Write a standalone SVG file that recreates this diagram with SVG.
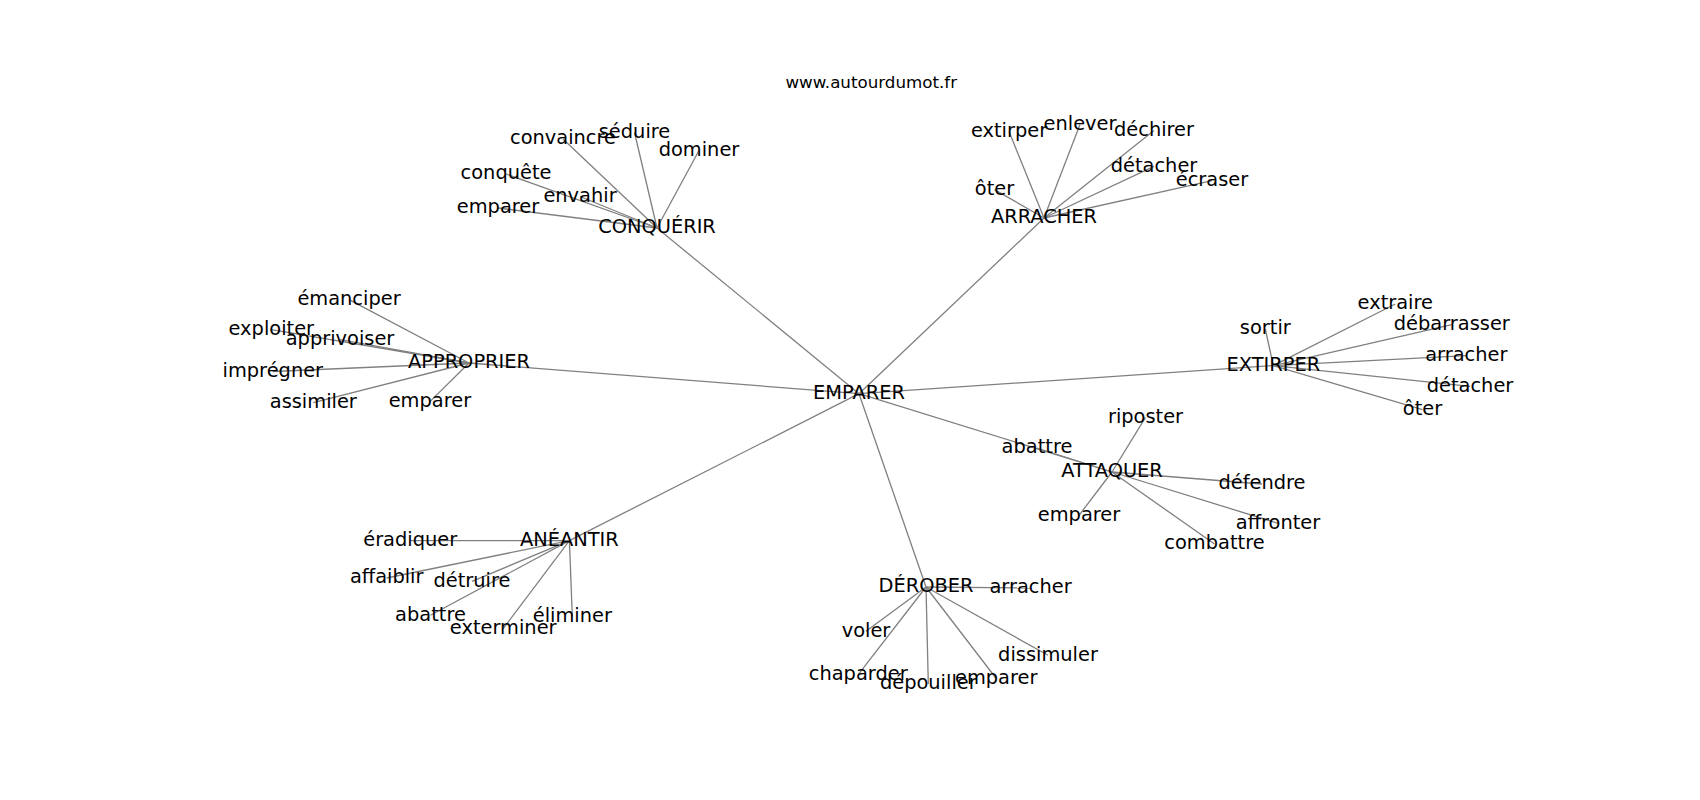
<svg xmlns="http://www.w3.org/2000/svg" width="1700" height="800" viewBox="0 0 1700 800">
<style>
.e line{stroke:#808080;stroke-width:1.3;fill:none}
text{font-family:"DejaVu Sans",sans-serif;font-size:19.4px;fill:#000;text-anchor:middle}
.t{font-size:16.7px}
</style>
<rect width="1700" height="800" fill="#fff"/>
<text class="t" x="871.25" y="88">www.autourdumot.fr</text>
<g class="e" id="connectors">
<line x1="859" y1="393.7" x2="657" y2="228"/>
<line x1="859" y1="393.7" x2="1044" y2="218"/>
<line x1="859" y1="393.7" x2="469" y2="363"/>
<line x1="859" y1="393.7" x2="1273.3" y2="365.6"/>
<line x1="859" y1="393.7" x2="1112" y2="472"/>
<line x1="859" y1="393.7" x2="569.4" y2="540.6"/>
<line x1="859" y1="393.7" x2="926" y2="587"/>
<line x1="657" y1="228" x2="563" y2="139"/>
<line x1="657" y1="228" x2="634.5" y2="132.5"/>
<line x1="657" y1="228" x2="699" y2="150.5"/>
<line x1="657" y1="228" x2="506" y2="174"/>
<line x1="657" y1="228" x2="580" y2="196.5"/>
<line x1="657" y1="228" x2="498" y2="208"/>
<line x1="1044" y1="218" x2="1009" y2="131.5"/>
<line x1="1044" y1="218" x2="1080" y2="124.6"/>
<line x1="1044" y1="218" x2="1154" y2="130.6"/>
<line x1="1044" y1="218" x2="1154" y2="166.3"/>
<line x1="1044" y1="218" x2="1212" y2="180.6"/>
<line x1="1044" y1="218" x2="994.5" y2="189.6"/>
<line x1="469" y1="363" x2="349" y2="299.6"/>
<line x1="469" y1="363" x2="271.3" y2="329.6"/>
<line x1="469" y1="363" x2="340" y2="339.6"/>
<line x1="469" y1="363" x2="272.8" y2="371.5"/>
<line x1="469" y1="363" x2="313.3" y2="402.7"/>
<line x1="469" y1="363" x2="429.9" y2="401.6"/>
<line x1="1273.3" y1="365.6" x2="1265.3" y2="329"/>
<line x1="1273.3" y1="365.6" x2="1395.3" y2="304"/>
<line x1="1273.3" y1="365.6" x2="1451.8" y2="324.6"/>
<line x1="1273.3" y1="365.6" x2="1466.3" y2="355.6"/>
<line x1="1273.3" y1="365.6" x2="1470" y2="386.3"/>
<line x1="1273.3" y1="365.6" x2="1422.5" y2="409.6"/>
<line x1="1112" y1="472" x2="1145.5" y2="417.3"/>
<line x1="1112" y1="472" x2="1037" y2="448"/>
<line x1="1112" y1="472" x2="1262" y2="484"/>
<line x1="1112" y1="472" x2="1079" y2="515.3"/>
<line x1="1112" y1="472" x2="1278" y2="523.3"/>
<line x1="1112" y1="472" x2="1214.5" y2="544"/>
<line x1="569.4" y1="540.6" x2="410.2" y2="540.6"/>
<line x1="569.4" y1="540.6" x2="386.7" y2="578"/>
<line x1="569.4" y1="540.6" x2="472" y2="581.3"/>
<line x1="569.4" y1="540.6" x2="430.5" y2="615.3"/>
<line x1="569.4" y1="540.6" x2="503.2" y2="628.6"/>
<line x1="569.4" y1="540.6" x2="572.3" y2="616.3"/>
<line x1="926" y1="587" x2="1030.6" y2="588"/>
<line x1="926" y1="587" x2="866" y2="631.3"/>
<line x1="926" y1="587" x2="1048" y2="655.3"/>
<line x1="926" y1="587" x2="858.2" y2="674.6"/>
<line x1="926" y1="587" x2="928.3" y2="684"/>
<line x1="926" y1="587" x2="996.2" y2="678.5"/>
</g>
<g id="n-emparer"><text x="859" y="399.1">EMPARER</text></g>
<g id="n-conquerir"><text x="657" y="233.4">CONQUÉRIR</text>
<text x="563" y="144.4">convaincre</text>
<text x="634.5" y="137.9">séduire</text>
<text x="699" y="155.9">dominer</text>
<text x="506" y="179.4">conquête</text>
<text x="580" y="201.9">envahir</text>
<text x="498" y="213.4">emparer</text></g>
<g id="n-arracher"><text x="1044" y="223.4">ARRACHER</text>
<text x="1009" y="136.9">extirper</text>
<text x="1080" y="130">enlever</text>
<text x="1154" y="136">déchirer</text>
<text x="1154" y="171.7">détacher</text>
<text x="1212" y="186">écraser</text>
<text x="994.5" y="195">ôter</text></g>
<g id="n-approprier"><text x="469" y="368.4">APPROPRIER</text>
<text x="349" y="305">émanciper</text>
<text x="271.3" y="335">exploiter</text>
<text x="340" y="345">apprivoiser</text>
<text x="272.8" y="376.9">imprégner</text>
<text x="313.3" y="408.1">assimiler</text>
<text x="429.9" y="407">emparer</text></g>
<g id="n-extirper"><text x="1273.3" y="371">EXTIRPER</text>
<text x="1265.3" y="334.4">sortir</text>
<text x="1395.3" y="309.4">extraire</text>
<text x="1451.8" y="330">débarrasser</text>
<text x="1466.3" y="361">arracher</text>
<text x="1470" y="391.7">détacher</text>
<text x="1422.5" y="415">ôter</text></g>
<g id="n-attaquer"><text x="1112" y="477.4">ATTAQUER</text>
<text x="1145.5" y="422.7">riposter</text>
<text x="1037" y="453.4">abattre</text>
<text x="1262" y="489.4">défendre</text>
<text x="1079" y="520.7">emparer</text>
<text x="1278" y="528.7">affronter</text>
<text x="1214.5" y="549.4">combattre</text></g>
<g id="n-aneantir"><text x="569.4" y="546">ANÉANTIR</text>
<text x="410.2" y="546">éradiquer</text>
<text x="386.7" y="583.4">affaiblir</text>
<text x="472" y="586.7">détruire</text>
<text x="430.5" y="620.7">abattre</text>
<text x="503.2" y="634">exterminer</text>
<text x="572.3" y="621.7">éliminer</text></g>
<g id="n-derober"><text x="926" y="592.4">DÉROBER</text>
<text x="1030.6" y="593.4">arracher</text>
<text x="866" y="636.7">voler</text>
<text x="1048" y="660.7">dissimuler</text>
<text x="858.2" y="680">chaparder</text>
<text x="928.3" y="689.4">dépouiller</text>
<text x="996.2" y="683.9">emparer</text></g>
</svg>
